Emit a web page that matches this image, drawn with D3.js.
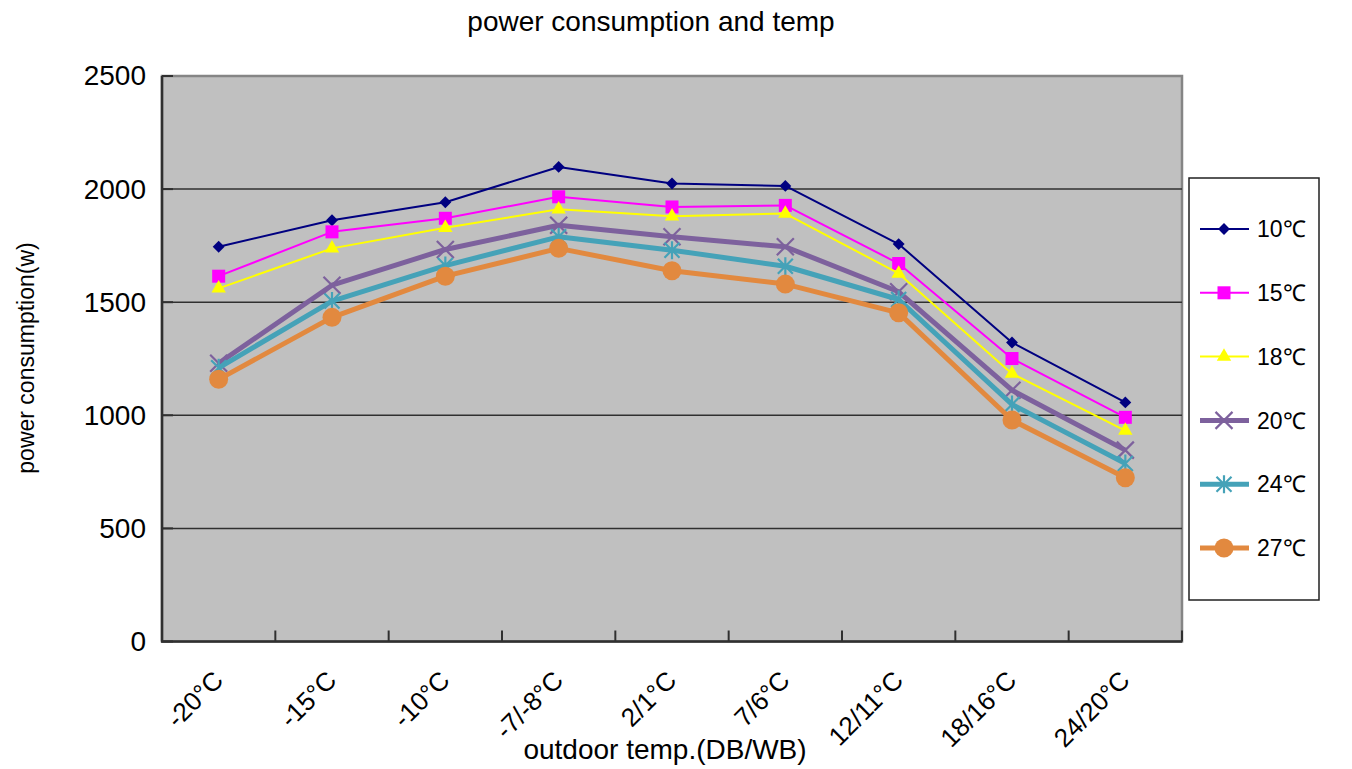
<!DOCTYPE html>
<html>
<head>
<meta charset="utf-8">
<script src="https://cdn.jsdelivr.net/npm/d3@7"></script>
<style>
  html, body { margin: 0; padding: 0; background: #fff; }
  svg { display: block; font-family: "Liberation Sans", Arial, sans-serif; }
</style>
</head>
<body>
<svg id="chart" width="1352" height="769"></svg>
<script>
// Outdoor conditions (DB/WB) on the x axis
const categories = ["-20°C", "-15°C", "-10°C", "-7/-8°C", "2/1°C", "7/6°C", "12/11°C", "18/16°C", "24/20°C"];

// Power consumption (W) per indoor temperature setting
const series10 = [1745, 1862, 1942, 2098, 2025, 2014, 1757, 1322, 1057];
const series15 = [1615, 1811, 1871, 1966, 1921, 1928, 1671, 1251, 991];
const series18 = [1561, 1738, 1829, 1911, 1880, 1892, 1627, 1184, 932];
const series20 = [1230, 1575, 1733, 1840, 1789, 1745, 1546, 1111, 846];
const series24 = [1210, 1505, 1662, 1789, 1730, 1659, 1512, 1048, 787];
const series27 = [1159, 1433, 1615, 1738, 1639, 1580, 1453, 979, 724];

const seriesNames = ["10℃", "15℃", "18℃", "20℃", "24℃", "27℃"];
const yTicks = [0, 500, 1000, 1500, 2000, 2500];

const styles = [
  { color: "#000080", width: 2, marker: "diamond" },
  { color: "#ff00ff", width: 2, marker: "square" },
  { color: "#ffff00", width: 2, marker: "triangle" },
  { color: "#7d619d", width: 5, marker: "cross" },
  { color: "#45a2b8", width: 5, marker: "star" },
  { color: "#e2893f", width: 5, marker: "circle" }
];
const allSeries = [series10, series15, series18, series20, series24, series27];

const svg = d3.select("#chart");
const plot = { left: 162, right: 1182, top: 76, bottom: 641.5 };

const x = d3.scaleBand().domain(categories).range([plot.left, plot.right]).padding(0);
const xc = c => x(c) + x.bandwidth() / 2;
const y = d3.scaleLinear().domain([0, 2500]).range([plot.bottom, plot.top]);

// plot area
svg.append("rect")
  .attr("x", plot.left).attr("y", plot.top)
  .attr("width", plot.right - plot.left).attr("height", plot.bottom - plot.top)
  .attr("fill", "#c0c0c0").attr("stroke", "#858585").attr("stroke-width", 2.5);

// horizontal grid lines
svg.append("g").selectAll("line")
  .data(yTicks.filter(v => v > 0 && v < 2500))
  .join("line")
  .attr("x1", plot.left).attr("x2", plot.right)
  .attr("y1", d => y(d)).attr("y2", d => y(d))
  .attr("stroke", "#303030").attr("stroke-width", 1.5);

// y axis
const yAxis = d3.axisLeft(y).tickValues(yTicks).tickFormat(d3.format("d")).tickSize(0).tickPadding(16);
const gy = svg.append("g").attr("transform", `translate(${plot.left},0)`).call(yAxis);
gy.select(".domain").remove();
gy.selectAll("text").attr("font-size", 28).attr("fill", "#000")
  .attr("font-family", "'Liberation Sans', Arial, sans-serif");
// inward tick marks on the y axis
svg.append("g").selectAll("line").data(yTicks).join("line")
  .attr("x1", plot.left).attr("x2", plot.left + 11)
  .attr("y1", d => y(d)).attr("y2", d => y(d))
  .attr("stroke", "#303030").attr("stroke-width", 2);

// x axis: tick marks at band boundaries, pointing up into the plot
const bounds = categories.map(c => x(c)).concat([plot.right]);
svg.append("g").selectAll("line").data(bounds).join("line")
  .attr("x1", d => d).attr("x2", d => d)
  .attr("y1", plot.bottom).attr("y2", plot.bottom - 11)
  .attr("stroke", "#303030").attr("stroke-width", 2);

// axis lines
svg.append("line").attr("x1", plot.left).attr("x2", plot.left)
  .attr("y1", plot.top).attr("y2", plot.bottom)
  .attr("stroke", "#303030").attr("stroke-width", 2.5);
svg.append("line").attr("x1", plot.left - 1).attr("x2", plot.right)
  .attr("y1", plot.bottom).attr("y2", plot.bottom)
  .attr("stroke", "#303030").attr("stroke-width", 2.5);

// rotated category labels, ending just right of each category centre
svg.append("g").selectAll("text").data(categories).join("text")
  .attr("transform", d => `translate(${xc(d) + 6},${682}) rotate(-45)`)
  .attr("text-anchor", "end")
  .attr("font-size", 26)
  .attr("fill", "#000")
  .text(d => d);

// marker shapes
function drawMarker(g, type, color, cx, cy) {
  if (type === "diamond") {
    g.append("path").attr("d", d3.symbol(d3.symbolDiamond2, 90)())
      .attr("transform", `translate(${cx},${cy})`).attr("fill", color);
  } else if (type === "square") {
    g.append("rect").attr("x", cx - 6.5).attr("y", cy - 6.5)
      .attr("width", 13).attr("height", 13).attr("fill", color);
  } else if (type === "triangle") {
    g.append("path").attr("d", d3.symbol(d3.symbolTriangle, 90)())
      .attr("transform", `translate(${cx},${cy})`).attr("fill", color);
  } else if (type === "cross") {
    const r = 8.5;
    g.append("path")
      .attr("d", `M${cx - r},${cy - r}L${cx + r},${cy + r}M${cx - r},${cy + r}L${cx + r},${cy - r}`)
      .attr("stroke", color).attr("stroke-width", 2.2).attr("fill", "none");
  } else if (type === "star") {
    const r = 7.5;
    g.append("path")
      .attr("d", `M${cx - r},${cy - r}L${cx + r},${cy + r}M${cx - r},${cy + r}L${cx + r},${cy - r}M${cx},${cy - r - 1.5}L${cx},${cy + r + 1.5}`)
      .attr("stroke", color).attr("stroke-width", 2.2).attr("fill", "none");
  } else if (type === "circle") {
    g.append("circle").attr("cx", cx).attr("cy", cy).attr("r", 9.5).attr("fill", color);
  }
}

// series lines and markers
const line = d3.line().x((d, i) => xc(categories[i])).y(d => y(d));
allSeries.forEach((vals, si) => {
  const st = styles[si];
  const g = svg.append("g");
  g.append("path").attr("d", line(vals))
    .attr("fill", "none").attr("stroke", st.color)
    .attr("stroke-width", st.width).attr("stroke-linejoin", "round");
  vals.forEach((v, i) => drawMarker(g, st.marker, st.color, xc(categories[i]), y(v)));
});

// legend
const legend = { x: 1189, y: 178, w: 130, h: 422 };
svg.append("rect").attr("x", legend.x).attr("y", legend.y)
  .attr("width", legend.w).attr("height", legend.h)
  .attr("fill", "#fff").attr("stroke", "#202020").attr("stroke-width", 1.5);
const ly = d3.scalePoint().domain(seriesNames).range([229, 548]);
seriesNames.forEach((name, si) => {
  const st = styles[si];
  const g = svg.append("g");
  const cy = ly(name);
  g.append("line").attr("x1", 1200).attr("x2", 1249).attr("y1", cy).attr("y2", cy)
    .attr("stroke", st.color).attr("stroke-width", st.width);
  drawMarker(g, st.marker, st.color, 1224, cy);
  g.append("text").attr("x", 1257).attr("y", cy).attr("dy", "0.36em")
    .attr("font-size", 23).attr("fill", "#000").text(name);
});

// titles
svg.append("text").attr("x", 651).attr("y", 31).attr("text-anchor", "middle")
  .attr("font-size", 28).attr("fill", "#000").text("power consumption and temp");
svg.append("text").attr("x", 665).attr("y", 759).attr("text-anchor", "middle")
  .attr("font-size", 28).attr("fill", "#000").text("outdoor temp.(DB/WB)");
svg.append("text").attr("transform", "translate(34,358) rotate(-90)")
  .attr("text-anchor", "middle").attr("font-size", 23).attr("fill", "#000")
  .text("power consumption(w)");
</script>
</body>
</html>
